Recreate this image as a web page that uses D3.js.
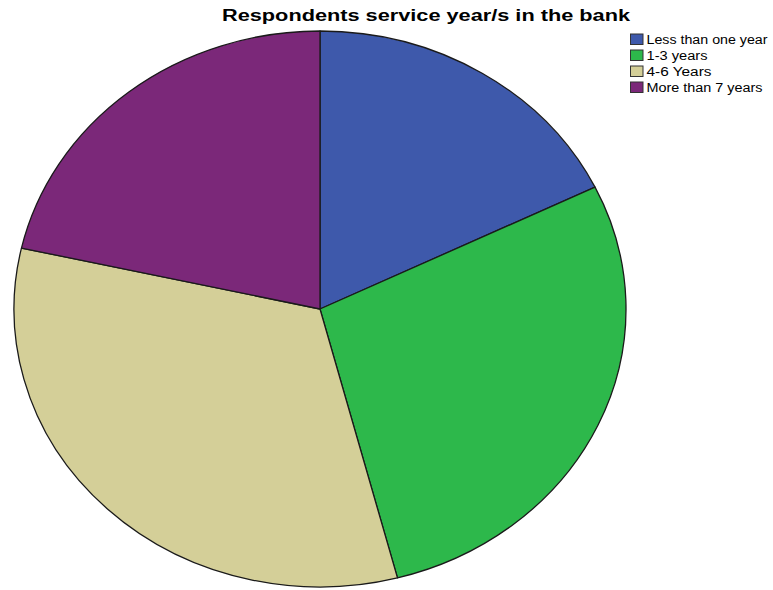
<!DOCTYPE html>
<html><head><meta charset="utf-8">
<script src="https://cdn.jsdelivr.net/npm/d3@7"></script>
<style>body{margin:0;background:#fff}svg{display:block}text{font-family:Arial,"Liberation Sans",sans-serif}</style>
</head><body>
<script>
const title = "Respondents service year/s in the bank";
const categories = ["Less than one year", "1-3 years", "4-6 Years", "More than 7 years"];
const values = [24, 38, 44, 29];
const colors = ["#3e59ab", "#2db84b", "#d4cf98", "#7b2879"];
const legendWidths = [121, 61, 65, 116];

const W = 773, H = 590;
const svg = d3.select("body").append("svg").attr("width", W).attr("height", H);

const cx = 320, cy = 309, rx = 306, ry = 278;
const pie = d3.pie().sort(null).value(d => d.v).startAngle(0).endAngle(2 * Math.PI);
const data = categories.map((c, i) => ({c, v: values[i], col: colors[i]}));
const arc = d3.arc().innerRadius(0).outerRadius(ry);

const g = svg.append("g").attr("transform", `translate(${cx},${cy}) scale(${rx / ry},1)`);
g.selectAll("path").data(pie(data)).join("path")
  .attr("d", arc)
  .attr("fill", d => d.data.col)
  .attr("stroke", "#1a1a1a")
  .attr("stroke-width", 1.3)
  .attr("vector-effect", "non-scaling-stroke")
  .attr("stroke-linejoin", "round");

svg.append("text").attr("x", 222).attr("y", 20.5)
  .attr("font-size", 16).attr("font-weight", "bold").attr("fill", "#000")
  .attr("textLength", 408).attr("lengthAdjust", "spacingAndGlyphs")
  .text(title);

const lg = svg.append("g");
const rows = lg.selectAll("g").data(data).join("g")
  .attr("transform", (d, i) => `translate(630,${33.5 + i * 16})`);
rows.append("rect").attr("x", 0.5).attr("y", 0.5).attr("width", 12.5).attr("height", 10.5)
  .attr("fill", d => d.col).attr("stroke", "#333").attr("stroke-width", 1);
rows.append("text").attr("x", 16.5).attr("y", 10.5)
  .attr("font-size", 12).attr("fill", "#000")
  .attr("textLength", (d, i) => legendWidths[i]).attr("lengthAdjust", "spacingAndGlyphs")
  .text(d => d.c);
</script>
</body></html>
